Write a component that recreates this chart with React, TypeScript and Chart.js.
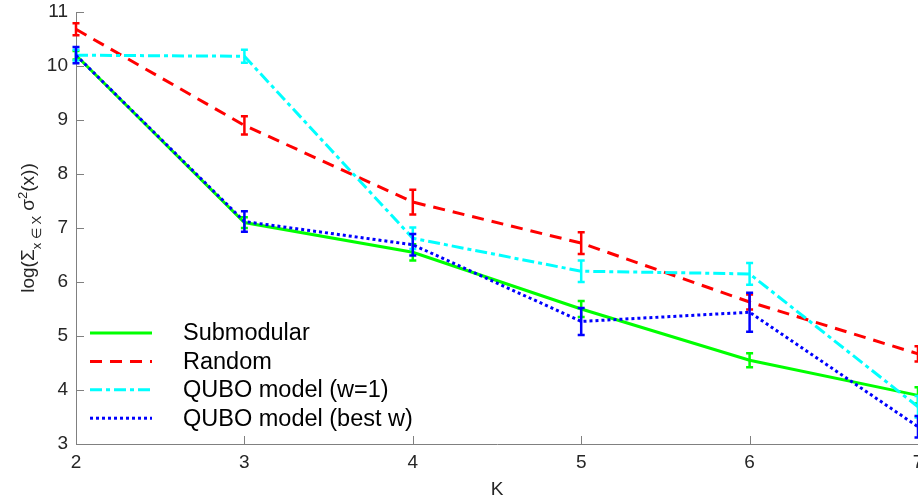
import { useEffect, useRef } from "react";
import { Chart, registerables } from "chart.js";

Chart.register(...registerables);

// Number of clusters K
const K = [2, 3, 4, 5, 6, 7];

// Mean log within-cluster variance and error half-widths per method
const submodular = [10.2, 7.1, 6.55, 5.5, 4.55, 3.9];
const submodularErr = [0.08, 0.1, 0.15, 0.15, 0.13, 0.15];
const random = [10.68, 8.9, 7.48, 6.72, 5.63, 4.67];
const randomErr = [0.11, 0.17, 0.23, 0.2, 0.14, 0.14];
const quboW1 = [10.2, 10.18, 6.81, 6.2, 6.15, 3.69];
const quboW1Err = [0.1, 0.12, 0.2, 0.2, 0.2, 0.2];
const quboBest = [10.2, 7.12, 6.69, 5.27, 5.44, 3.32];
const quboBestErr = [0.15, 0.19, 0.2, 0.25, 0.36, 0.2];

const seriesNames = ["Submodular", "Random", "QUBO model (w=1)", "QUBO model (best w)"];
const seriesColors = ["#00ff00", "#ff0000", "#00ffff", "#0000ff"];
const seriesDashes: number[][] = [[], [12, 8], [12, 4, 4, 4], [3, 3]];
const seriesValues = [submodular, random, quboW1, quboBest];
const seriesErrors = [submodularErr, randomErr, quboW1Err, quboBestErr];

const FONT = "'Liberation Sans', Arial, Helvetica, sans-serif";
const TEXT = "#262626";
const AXIS = "#808080";

// Vertical error bars with caps, drawn right after each series' line
const errorBars = {
  id: "errorBars",
  afterDatasetDraw(chart: any, args: any) {
    const i = args.index;
    const { ctx, scales } = chart;
    const vals = seriesValues[i];
    const errs = seriesErrors[i];
    ctx.save();
    ctx.strokeStyle = seriesColors[i];
    ctx.lineWidth = 2.5;
    ctx.setLineDash([]);
    K.forEach((k, j) => {
      const x = scales.x.getPixelForValue(k);
      const y0 = scales.y.getPixelForValue(vals[j] - errs[j]);
      const y1 = scales.y.getPixelForValue(vals[j] + errs[j]);
      ctx.beginPath();
      ctx.moveTo(x, y0);
      ctx.lineTo(x, y1);
      ctx.moveTo(x - 3.5, y0);
      ctx.lineTo(x + 3.5, y0);
      ctx.moveTo(x - 3.5, y1);
      ctx.lineTo(x + 3.5, y1);
      ctx.stroke();
    });
    ctx.restore();
  },
};

// Inward tick marks, y-axis title with sub/superscripts, and in-plot legend
const decorations = {
  id: "decorations",
  afterDraw(chart: any) {
    const { ctx, scales, chartArea } = chart;
    const { left, bottom } = chartArea;
    ctx.save();
    ctx.strokeStyle = AXIS;
    ctx.lineWidth = 1;
    ctx.setLineDash([]);
    scales.x.ticks.forEach((t: any) => {
      const x = Math.round(scales.x.getPixelForValue(t.value)) + 0.5;
      ctx.beginPath();
      ctx.moveTo(x, bottom);
      ctx.lineTo(x, bottom - 8);
      ctx.stroke();
    });
    scales.y.ticks.forEach((t: any) => {
      const y = Math.round(scales.y.getPixelForValue(t.value)) + 0.5;
      ctx.beginPath();
      ctx.moveTo(left, y);
      ctx.lineTo(left + 8, y);
      ctx.stroke();
    });

    // y-axis title: log(Σ_{x ∈ X} σ^2(x))
    const parts: [string, number, number][] = [
      ["log(Σ", 19, 0],
      ["x ∈ X", 13, 7],
      [" σ", 19, 0],
      ["2", 13, -7],
      ["(x))", 19, 0],
    ];
    let total = 0;
    const widths = parts.map(([s, size]) => {
      ctx.font = `${size}px ${FONT}`;
      const w = ctx.measureText(s).width;
      total += w;
      return w;
    });
    const cy = (chartArea.top + chartArea.bottom) / 2;
    ctx.translate(33.5, cy);
    ctx.rotate(-Math.PI / 2);
    ctx.fillStyle = TEXT;
    ctx.textBaseline = "alphabetic";
    ctx.textAlign = "left";
    let pos = -total / 2;
    parts.forEach(([s, size, shift], i) => {
      ctx.font = `${size}px ${FONT}`;
      ctx.fillText(s, pos, shift);
      pos += widths[i];
    });
    ctx.restore();

    // legend
    ctx.save();
    ctx.font = `23.5px ${FONT}`;
    ctx.textBaseline = "middle";
    ctx.textAlign = "left";
    seriesNames.forEach((name, i) => {
      const y = 333 + i * 28.4;
      ctx.strokeStyle = seriesColors[i];
      ctx.lineWidth = 3;
      ctx.setLineDash(seriesDashes[i]);
      ctx.beginPath();
      ctx.moveTo(90, y);
      ctx.lineTo(152, y);
      ctx.stroke();
      ctx.fillStyle = "#000";
      ctx.fillText(name, 183, y + 1);
    });
    ctx.restore();
  },
};

export default function App() {
  const ref = useRef<HTMLCanvasElement>(null);

  useEffect(() => {
    document.body.style.margin = "0";
    const canvas = ref.current!;
    // draw order: later series on top
    const order = [3, 2, 1, 0];
    const chart = new Chart(canvas, {
      type: "line",
      data: {
        datasets: seriesNames.map((name, i) => ({
          label: name,
          data: K.map((k, j) => ({ x: k, y: seriesValues[i][j] })),
          borderColor: seriesColors[i],
          backgroundColor: seriesColors[i],
          borderWidth: 3,
          borderDash: seriesDashes[i],
          pointRadius: 0,
          pointHoverRadius: 0,
          tension: 0,
          fill: false,
          clip: false as any,
          order: order[i],
        })),
      },
      options: {
        animation: false,
        responsive: false,
        devicePixelRatio: 1,
        events: [],
        layout: { padding: { top: 12, right: 22, left: 0, bottom: 0 } },
        plugins: {
          legend: { display: false },
          tooltip: { enabled: false },
        },
        scales: {
          x: {
            type: "linear",
            min: 2,
            max: 7,
            grid: { display: false, drawTicks: false },
            border: { display: true, color: AXIS, width: 1 },
            ticks: {
              stepSize: 1,
              padding: 7,
              color: TEXT,
              font: { family: FONT, size: 19 },
            },
            title: {
              display: true,
              text: "K",
              color: TEXT,
              font: { family: FONT, size: 19 },
              padding: { top: 0, bottom: 1 },
            },
            afterFit: (s: any) => {
              s.height = 58;
              s.paddingLeft = 0;
              s.paddingRight = 0;
            },
          },
          y: {
            type: "linear",
            min: 3,
            max: 11,
            grid: { display: false, drawTicks: false },
            border: { display: true, color: AXIS, width: 1 },
            ticks: {
              stepSize: 1,
              padding: 8,
              color: TEXT,
              font: { family: FONT, size: 19 },
            },
            afterFit: (s: any) => {
              s.width = 76;
              s.paddingTop = 0;
              s.paddingBottom = 0;
            },
          },
        },
      },
      plugins: [errorBars, decorations],
    });
    return () => chart.destroy();
  }, []);

  return (
    <div style={{ width: 918, height: 502, overflow: "hidden", background: "#fff" }}>
      <canvas ref={ref} width={940} height={502} style={{ display: "block" }} />
    </div>
  );
}
